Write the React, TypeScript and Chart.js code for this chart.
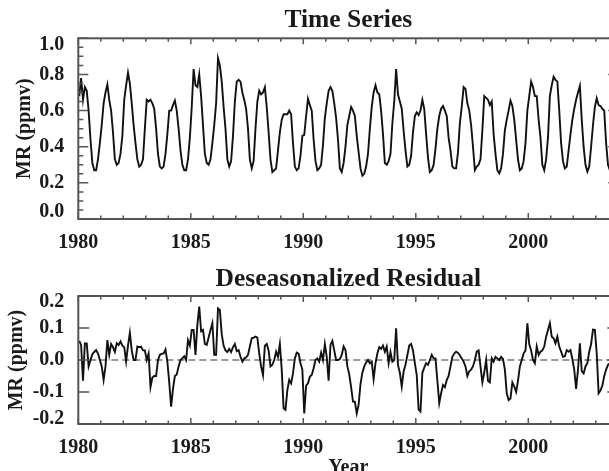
import React, { useEffect, useRef } from 'react';
import { Chart, registerables } from 'chart.js';

Chart.register(...registerables);

// ---------------- data ----------------
const years = [1980, 1981, 1982, 1983, 1984, 1985, 1986, 1987, 1988, 1989, 1990, 1991,
  1992, 1993, 1994, 1995, 1996, 1997, 1998, 1999, 2000, 2001, 2002, 2003];

// monthly mixing ratio (ppmv), Jan..Dec for each year
const tsValues = [
  0.68, 0.78, 0.66, 0.73, 0.71, 0.60, 0.44, 0.31, 0.27, 0.27, 0.33, 0.42,
  0.52, 0.64, 0.70, 0.745, 0.66, 0.60, 0.48, 0.33, 0.30, 0.31, 0.36, 0.46,
  0.66, 0.74, 0.81, 0.75, 0.64, 0.52, 0.42, 0.33, 0.29, 0.30, 0.33, 0.50,
  0.66, 0.65, 0.66, 0.64, 0.61, 0.50, 0.36, 0.29, 0.28, 0.29, 0.36, 0.47,
  0.60, 0.60, 0.63, 0.655, 0.60, 0.50, 0.38, 0.30, 0.27, 0.27, 0.33, 0.45,
  0.62, 0.83, 0.74, 0.73, 0.80, 0.68, 0.52, 0.36, 0.31, 0.30, 0.33, 0.42,
  0.52, 0.64, 0.89, 0.85, 0.76, 0.62, 0.50, 0.33, 0.29, 0.32, 0.46, 0.65,
  0.76, 0.77, 0.76, 0.70, 0.66, 0.61, 0.50, 0.33, 0.28, 0.32, 0.50, 0.65,
  0.71, 0.69, 0.70, 0.73, 0.62, 0.48, 0.33, 0.26, 0.27, 0.28, 0.38, 0.48,
  0.55, 0.58, 0.58, 0.58, 0.60, 0.58, 0.42, 0.29, 0.27, 0.28, 0.35, 0.46,
  0.465, 0.57, 0.665, 0.63, 0.60, 0.44, 0.32, 0.27, 0.28, 0.30, 0.41, 0.56,
  0.64, 0.71, 0.73, 0.71, 0.64, 0.56, 0.44, 0.28, 0.26, 0.31, 0.40, 0.52,
  0.57, 0.62, 0.60, 0.57, 0.46, 0.37, 0.28, 0.24, 0.25, 0.29, 0.36, 0.50,
  0.62, 0.70, 0.74, 0.70, 0.69, 0.60, 0.47, 0.31, 0.30, 0.32, 0.36, 0.53,
  0.65, 0.83, 0.69, 0.65, 0.61, 0.49, 0.38, 0.29, 0.30, 0.35, 0.48, 0.57,
  0.59, 0.575, 0.60, 0.66, 0.61, 0.47, 0.34, 0.26, 0.27, 0.30, 0.39, 0.50,
  0.57, 0.61, 0.625, 0.60, 0.57, 0.45, 0.38, 0.29, 0.28, 0.28, 0.37, 0.53,
  0.62, 0.73, 0.72, 0.64, 0.60, 0.52, 0.40, 0.27, 0.29, 0.30, 0.33, 0.49,
  0.68, 0.67, 0.66, 0.63, 0.65, 0.47, 0.36, 0.27, 0.253, 0.28, 0.36, 0.49,
  0.55, 0.60, 0.655, 0.625, 0.55, 0.44, 0.33, 0.27, 0.28, 0.32, 0.42, 0.60,
  0.68, 0.76, 0.73, 0.68, 0.68, 0.55, 0.45, 0.30, 0.27, 0.33, 0.45, 0.68,
  0.74, 0.787, 0.77, 0.76, 0.60, 0.42, 0.32, 0.28, 0.29, 0.38, 0.47, 0.55,
  0.61, 0.66, 0.70, 0.736, 0.55, 0.40, 0.30, 0.262, 0.29, 0.40, 0.52, 0.62,
  0.668, 0.63, 0.625, 0.61, 0.60, 0.42, 0.30, 0.27, 0.28, 0.32, 0.42, 0.55,
];

// deseasonalized residual (ppmv), Jan..Dec for each year
const residValues = [
  0.06, 0.047, -0.065, 0.052, 0.052, -0.02, 0.0, 0.018, 0.025, 0.031, 0.02, 0.0,
  -0.02, -0.062, -0.02, 0.062, 0.016, 0.05, 0.04, 0.025, 0.052, 0.047, 0.058, 0.045,
  0.04, -0.005, 0.045, 0.085, 0.03, 0.0, 0.0, 0.042, 0.04, 0.042, 0.03, 0.03,
  0.0, 0.02, -0.085, -0.055, -0.05, -0.05, 0.0, 0.016, 0.02, 0.02, 0.033, -0.005,
  -0.07, -0.146, -0.09, -0.05, -0.045, -0.02, 0.0, 0.005, 0.012, 0.0, 0.062, 0.045,
  0.094, 0.094, 0.016, 0.11, 0.167, 0.09, 0.094, 0.05, 0.047, 0.07, 0.094, 0.115,
  0.016, 0.016, 0.161, 0.156, 0.08, 0.045, 0.03, 0.025, 0.035, 0.025, 0.04, 0.05,
  0.028, 0.031, 0.01, -0.005, 0.005, 0.008, 0.016, 0.042, 0.068, 0.07, 0.073, 0.07,
  0.02, -0.02, -0.047, 0.045, 0.05, 0.03, -0.02, -0.015, 0.0, 0.026, 0.01, 0.05,
  -0.031, -0.151, -0.156, -0.094, -0.062, -0.073, -0.042, 0.005, 0.023, 0.02, -0.01, -0.03,
  -0.167, -0.08, -0.073, -0.052, -0.047, -0.026, 0.0, 0.005, -0.005, 0.023, 0.0, 0.05,
  0.01, -0.065, 0.047, 0.06, 0.03, 0.0, 0.0, 0.003, 0.016, 0.042, 0.031, -0.02,
  -0.045, -0.085, -0.13, -0.13, -0.167, -0.14, -0.075, -0.04, -0.02, -0.008, 0.0, -0.01,
  -0.005, -0.06, -0.01, 0.02, 0.04, 0.035, 0.045, 0.026, 0.042, -0.01, 0.025, -0.005,
  0.0, 0.099, -0.016, -0.04, -0.083, -0.036, -0.015, 0.015, 0.045, 0.05, 0.03, -0.01,
  -0.047, -0.155, -0.161, -0.04, -0.024, -0.01, -0.015, 0.0, 0.016, 0.005, 0.005, -0.064,
  -0.135, -0.104, -0.078, -0.085, -0.0625, -0.05, -0.02, 0.01, 0.02, 0.026, 0.022, 0.015,
  0.005, -0.005, -0.02, -0.05, -0.035, -0.03, -0.02, 0.0, 0.026, 0.03, -0.02, -0.07,
  -0.04, 0.0, -0.065, -0.07, 0.005, -0.005, 0.01, 0.005, 0.0, 0.01, 0.003, -0.03,
  -0.104, -0.125, -0.12, -0.07, -0.083, -0.1, -0.065, -0.02, 0.0, 0.02, 0.03, 0.115,
  0.05, 0.03, 0.0, -0.01, 0.042, 0.016, 0.026, 0.03, 0.042, 0.073, 0.094, 0.115,
  0.073, 0.068, 0.052, 0.073, 0.042, 0.026, 0.01, 0.012, 0.031, 0.026, 0.031, 0.003,
  -0.03, -0.09, -0.03, 0.052, -0.035, -0.042, -0.02, -0.01, 0.026, 0.05, 0.095, 0.094,
  0.02, -0.104, -0.095, -0.08, -0.05, -0.03, -0.015, -0.01, 0.0, 0.01, 0.0, -0.01,
];

const xMin = 1980;
const xMax = 2004;
const xLabelStep = 5;
const tsYMin = 0.0;
const tsYMax = 1.0;
const tsYStep = 0.2;
const tsYMinorStep = 0.05;
const resYMin = -0.2;
const resYMax = 0.2;
const resYStep = 0.1;
const zeroLine = 0.0;

const topTitle = 'Time Series';
const bottomTitle = 'Deseasonalized Residual';
const yTitle = 'MR (ppmv)';
const xTitle = 'Year';

// ---------------- styling ----------------
const FONT = "'Liberation Serif', 'Times New Roman', serif";
const TEXT = '#1a1a1a';
const FRAME = '#555555';
const LINE = '#111111';
const CANVAS_W = 640;

function toPoints(values: number[]) {
  // monthly samples placed at mid-month
  return values.map((v, i) => ({ x: years[0] + (i + 0.5) / 12, y: v }));
}

function fmt(v: number) {
  if (Math.abs(v) < 1e-9) return '0.0';
  return v.toFixed(1);
}

const framePlugin = {
  id: 'frame',
  afterDraw(chart: any, _args: any, opts: any) {
    const { ctx, chartArea } = chart;
    const { left, right, top, bottom } = chartArea;
    const xs = chart.scales.x;
    const ys = chart.scales.y;
    ctx.save();
    ctx.strokeStyle = FRAME;
    ctx.lineWidth = 2;
    ctx.strokeRect(left, top, right - left, bottom - top);
    ctx.lineWidth = 1.5;
    ctx.beginPath();
    for (let yr = xMin; yr <= xMax; yr += 1) {
      const px = xs.getPixelForValue(yr);
      const len = (yr - xMin) % xLabelStep === 0 ? 6 : 3.5;
      ctx.moveTo(px, bottom);
      ctx.lineTo(px, bottom - len);
      ctx.moveTo(px, top);
      ctx.lineTo(px, top + len);
    }
    const drawY = (step: number, len: number) => {
      const n = Math.round((opts.max - opts.min) / step);
      for (let i = 0; i <= n; i++) {
        const v = opts.min + i * step;
        const py = ys.getPixelForValue(v);
        ctx.moveTo(left, py);
        ctx.lineTo(left + len, py);
        ctx.moveTo(right, py);
        ctx.lineTo(right - len, py);
      }
    };
    if (opts.minorStep) drawY(opts.minorStep, 5);
    drawY(opts.majorStep, opts.majorLen);
    ctx.stroke();
    ctx.restore();
  },
};

function yTickCallback(value: any, index: number, ticks: any[]) {
  const s = fmt(Number(value));
  if (index === ticks.length - 1) return ['', s];
  if (index === 0) return [s, ''];
  return s;
}

function makeOptions(cfg: any) {
  return {
    responsive: false,
    animation: false,
    layout: { padding: { left: 0, right: CANVAS_W - 618.3, top: 0, bottom: 0 } },
    plugins: {
      legend: { display: false },
      tooltip: { enabled: false },
      title: {
        display: true,
        text: cfg.title,
        fullSize: false,
        color: TEXT,
        font: { family: FONT, size: 25.5, weight: 'bold', lineHeight: 1.2 },
        padding: cfg.titlePadding,
      },
      frame: cfg.frame,
    },
    scales: {
      x: {
        type: 'linear',
        min: xMin,
        max: xMax,
        grid: { display: false },
        border: { display: false },
        ticks: {
          stepSize: xLabelStep,
          includeBounds: false,
          autoSkip: false,
          maxRotation: 0,
          padding: 4,
          color: TEXT,
          font: { family: FONT, size: 20, weight: 'bold', lineHeight: 1.2 },
          callback: (v: any) => String(Math.round(Number(v))),
        },
        title: cfg.xTitle
          ? {
              display: true,
              text: cfg.xTitle,
              color: TEXT,
              font: { family: FONT, size: 20, weight: 'bold', lineHeight: 1.2 },
              padding: { top: 0, bottom: cfg.xTitlePad },
            }
          : { display: false },
        afterFit: (s: any) => {
          s.height = cfg.xHeight;
        },
      },
      y: {
        min: cfg.yMin,
        max: cfg.yMax,
        grid: { display: false },
        border: { display: false },
        ticks: {
          stepSize: cfg.yStep,
          autoSkip: false,
          padding: 6,
          color: TEXT,
          font: { family: FONT, size: 20, weight: 'bold', lineHeight: cfg.yLabelLH },
          callback: yTickCallback,
        },
        title: {
          display: true,
          text: yTitle,
          color: TEXT,
          font: { family: FONT, size: 20, weight: 'bold', lineHeight: 1.2 },
          padding: { top: cfg.yTitlePad, bottom: 0 },
        },
        afterFit: (s: any) => {
          s.width = 78.3;
        },
      },
    },
  };
}

export default function App() {
  const topRef = useRef<HTMLCanvasElement | null>(null);
  const botRef = useRef<HTMLCanvasElement | null>(null);

  useEffect(() => {
    const top = new Chart(topRef.current as HTMLCanvasElement, {
      type: 'line',
      data: {
        datasets: [
          {
            data: toPoints(tsValues),
            borderColor: LINE,
            borderWidth: 1.9,
            pointRadius: 0,
            tension: 0,
            fill: false,
          },
        ],
      },
      options: makeOptions({
        title: topTitle,
        titlePadding: { top: 5.6, bottom: 2.1 },
        frame: { min: tsYMin, max: tsYMax, majorStep: tsYStep, minorStep: tsYMinorStep, majorLen: 10 },
        xHeight: 41,
        yMin: tsYMin,
        yMax: tsYMax,
        yStep: tsYStep,
        yLabelLH: 0.67,
        yTitlePad: 13.3,
      }) as any,
      plugins: [framePlugin],
    });

    const bottom = new Chart(botRef.current as HTMLCanvasElement, {
      type: 'line',
      data: {
        datasets: [
          {
            data: toPoints(residValues),
            borderColor: LINE,
            borderWidth: 1.9,
            pointRadius: 0,
            tension: 0,
            fill: false,
          },
          {
            data: [
              { x: xMin, y: zeroLine },
              { x: xMax, y: zeroLine },
            ],
            borderColor: '#333333',
            borderWidth: 1,
            borderDash: [7, 4],
            pointRadius: 0,
            fill: false,
          },
        ],
      },
      options: makeOptions({
        title: bottomTitle,
        titlePadding: { top: 14.6, bottom: 0.8 },
        frame: { min: resYMin, max: resYMax, majorStep: resYStep, minorStep: 0, majorLen: 11 },
        xHeight: 66,
        xTitle: xTitle,
        xTitlePad: 10,
        yMin: resYMin,
        yMax: resYMax,
        yStep: resYStep,
        yLabelLH: 0.55,
        yTitlePad: 5.2,
      }) as any,
      plugins: [framePlugin],
    });

    return () => {
      top.destroy();
      bottom.destroy();
    };
  }, []);

  return (
    <div
      style={{
        position: 'fixed',
        left: 0,
        top: 0,
        width: 609,
        height: 471,
        overflow: 'hidden',
        background: '#ffffff',
      }}
    >
      <canvas
        ref={topRef}
        width={CANVAS_W}
        height={260}
        style={{ position: 'absolute', left: 0, top: 0, width: CANVAS_W, height: 260 }}
      />
      <canvas
        ref={botRef}
        width={CANVAS_W}
        height={240}
        style={{ position: 'absolute', left: 0, top: 250, width: CANVAS_W, height: 240 }}
      />
    </div>
  );
}
